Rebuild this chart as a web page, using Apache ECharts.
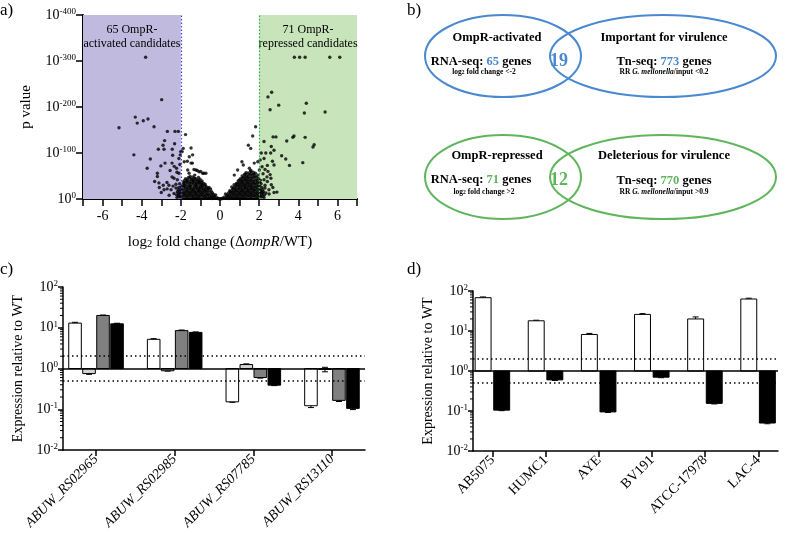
<!DOCTYPE html>
<html><head><meta charset="utf-8">
<script src="https://cdn.jsdelivr.net/npm/echarts@6/dist/echarts.min.js"></script>
<style>html,body{margin:0;padding:0;background:#fff}#c{width:800px;height:537px}</style>
</head><body><div id="c"></div>
<script>
// ---------- Panel a: volcano plot (x = log2 fold change, y = -log10 p) ----------
const volcanoActivated = [[-3.80,308],[-2.98,216],[-4.33,178],[-4.23,165],[-3.92,170],[-3.68,174],[-5.16,155],[-3.37,157],[-2.69,147],[-2.30,147],[-2.13,147],[-4.40,96],[-3.56,87],[-3.72,67],[-2.83,127],[-2.91,117],[-3.15,108],[-2.44,108],[-2.32,120],[-2.86,108],[-2.42,95],[-3.02,72],[-2.81,78],[-2.45,78],[-2.34,71],[-2.22,67],[-3.20,56],[-3.20,49],[-3.34,38],[-3.12,35],[-2.71,36],[-2.61,30],[-3.00,14],[-2.86,20],[-2.35,45],[-2.18,42],[-2.10,56],[-2.01,103],[-2.03,96],[-2.4,28],[-2.5,20],[-2.2,58],[-2.35,12],[-2.6,8],[-2.45,48],[-2.7,22],[-2.9,30],[-3.1,25],[-2.55,62],[-2.25,32],[-2.05,75],[-2.1,88]];
const volcanoRepressed = [[3.80,308],[4.07,308],[4.35,308],[5.61,308],[6.12,308],[2.64,232],[2.45,222],[2.56,194],[3.00,204],[4.41,208],[4.31,187],[5.37,189],[2.25,125],[2.71,135],[2.86,135],[3.72,134],[3.78,137],[4.35,134],[3.41,126],[4.81,118],[4.75,113],[2.62,114],[2.76,106],[2.11,100],[2.34,100],[2.59,100],[3.15,94],[3.36,87],[3.55,73],[4.23,79],[2.68,82],[2.76,74],[2.42,73],[2.30,64],[2.56,53],[2.25,42],[2.42,38],[2.62,31],[2.76,14],[2.91,15],[2.35,13],[2.51,11],[2.15,70],[2.2,55],[2.4,48],[2.3,30],[2.5,20],[2.15,15],[2.45,60],[2.6,45],[2.7,25],[2.05,85],[2.25,88]];
const volcanoNearLeft = [[-1.76,140],[-1.48,111],[-1.57,92],[-1.40,96],[-1.83,81],[-1.48,78],[-1.23,63],[-1.07,59],[-0.89,56],[-0.72,56],[-1.65,63],[-1.88,110],[-1.93,103],[-1.67,82],[-1.41,78],[-1.16,62],[-0.99,60],[-0.82,56],[-1.33,64],
[-0.05,0.5],[0,0],[-0.1,1],[-0.15,3],[-0.25,2],[-0.28,6],[-0.22,9],[-0.4,1],[-0.42,7],[-0.38,13],[-0.45,17],[-0.55,3],[-0.58,9],[-0.52,15],[-0.6,21],[-0.56,25],[-0.7,2],[-0.72,8],[-0.68,14],[-0.74,20],[-0.7,27],[-0.76,32],[-0.85,4],[-0.88,10],[-0.83,16],[-0.87,22],[-0.9,28],[-0.84,34],[-0.92,39],[-1.0,2],[-1.02,8],[-0.98,14],[-1.04,20],[-1.0,26],[-0.97,32],[-1.05,37],[-1.02,43],[-1.15,5],[-1.18,11],[-1.12,17],[-1.16,23],[-1.2,29],[-1.13,35],[-1.17,41],[-1.1,47],[-1.3,2],[-1.32,8],[-1.28,14],[-1.34,20],[-1.3,26],[-1.27,33],[-1.35,39],[-1.31,45],[-1.29,52],[-1.45,4],[-1.48,10],[-1.43,16],[-1.47,22],[-1.5,28],[-1.44,35],[-1.46,42],[-1.52,49],[-1.6,2],[-1.62,8],[-1.58,14],[-1.64,21],[-1.6,27],[-1.57,34],[-1.65,40],[-1.61,47],[-1.58,56],[-1.75,5],[-1.78,11],[-1.73,17],[-1.77,24],[-1.8,30],[-1.74,37],[-1.76,44],[-1.9,3],[-1.92,9],[-1.88,15],[-1.94,22],[-1.9,29],[-1.87,36],[-2.05,4],[-2.08,10],[-2.03,17],[-2.1,25],[-2.06,33],[-2.2,3],[-2.22,9],[-2.18,16],[-2.25,24],
[-0.33,4],[-0.33,10],[-0.48,4],[-0.48,10],[-0.48,22],[-0.63,5],[-0.63,11],[-0.63,18],[-0.63,24],[-0.78,5],[-0.78,11],[-0.78,17],[-0.78,23],[-0.78,29],[-0.93,7],[-0.93,13],[-0.93,19],[-0.93,25],[-0.93,31],[-0.93,36],[-1.08,5],[-1.08,11],[-1.08,17],[-1.08,23],[-1.08,29],[-1.08,35],[-1.08,40],[-1.23,2],[-1.23,8],[-1.23,14],[-1.23,20],[-1.23,26],[-1.23,32],[-1.23,38],[-1.23,44],[-1.38,5],[-1.38,11],[-1.38,17],[-1.38,23],[-1.38,30],[-1.38,36],[-1.38,42],[-1.38,48],[-1.53,7],[-1.53,13],[-1.53,19],[-1.53,25],[-1.53,31],[-1.53,38],[-1.53,45],[-1.68,5],[-1.68,11],[-1.68,17],[-1.68,24],[-1.68,30],[-1.68,36],[-1.68,42],[-1.83,7],[-1.83,13],[-1.83,20],[-1.83,27],[-1.83,33],[-1.83,40],[-1.98,6],[-1.98,13],[-1.98,20],[-1.98,27],[-2.13,6],[-2.13,13],[-2.13,20]];
const volcanoNearRight = [[1.82,157],[1.67,137],[1.45,117],[1.57,110],[1.12,81],[1.19,74],[1.5,67],[1.75,78],[1.93,81],[2.01,63],[0.9,63],[0.73,52],
[0.05,0.5],[0.1,1],[0.15,1],[0.2,4],[0.3,2],[0.33,7],[0.28,11],[0.45,1],[0.47,7],[0.43,13],[0.5,18],[0.6,3],[0.62,9],[0.58,15],[0.64,21],[0.6,26],[0.75,2],[0.77,8],[0.73,14],[0.79,20],[0.75,26],[0.72,31],[0.9,4],[0.92,10],[0.88,16],[0.94,22],[0.9,28],[0.87,34],[0.93,39],[1.05,2],[1.07,8],[1.03,14],[1.09,20],[1.05,26],[1.02,32],[1.08,38],[1.04,44],[1.2,5],[1.22,11],[1.18,17],[1.24,23],[1.2,29],[1.17,35],[1.23,41],[1.19,47],[1.25,53],[1.35,2],[1.37,8],[1.33,14],[1.39,20],[1.35,26],[1.32,32],[1.38,38],[1.34,44],[1.36,50],[1.33,57],[1.5,4],[1.52,10],[1.48,16],[1.54,22],[1.5,28],[1.47,34],[1.53,40],[1.49,46],[1.51,53],[1.55,60],[1.65,2],[1.67,8],[1.63,14],[1.69,20],[1.65,26],[1.62,32],[1.68,38],[1.64,45],[1.66,52],[1.7,58],[1.8,5],[1.82,11],[1.78,17],[1.84,23],[1.8,29],[1.77,35],[1.83,42],[1.79,49],[1.81,56],[1.95,3],[1.97,9],[1.93,15],[1.99,22],[1.95,29],[1.92,36],[1.96,44],[1.94,52],[2.1,4],[2.12,10],[2.08,17],[2.14,25],[2.1,33],[2.06,41],[2.25,3],[2.28,9],[2.22,16],[2.3,24],
[0.38,4],[0.38,9],[0.53,5],[0.53,11],[0.53,16],[0.68,5],[0.68,11],[0.68,17],[0.68,23],[0.83,5],[0.83,11],[0.83,17],[0.83,23],[0.83,29],[0.83,33],[0.98,5],[0.98,11],[0.98,17],[0.98,23],[0.98,29],[0.98,35],[0.98,41],[1.13,2],[1.13,8],[1.13,14],[1.13,20],[1.13,26],[1.13,32],[1.13,38],[1.13,44],[1.13,50],[1.28,5],[1.28,11],[1.28,17],[1.28,23],[1.28,29],[1.28,35],[1.28,41],[1.28,47],[1.28,54],[1.43,7],[1.43,13],[1.43,19],[1.43,25],[1.43,31],[1.43,37],[1.43,43],[1.43,49],[1.43,56],[1.58,5],[1.58,11],[1.58,17],[1.58,23],[1.58,29],[1.58,35],[1.58,41],[1.58,48],[1.58,55],[1.58,62],[1.73,7],[1.73,13],[1.73,20],[1.73,26],[1.73,33],[1.73,40],[1.73,47],[1.73,54],[1.88,6],[1.88,12],[1.88,19],[1.88,26],[1.88,33],[1.88,40],[1.88,48],[2.03,7],[2.03,13],[2.03,20],[2.03,28],[2.03,36],[2.18,6],[2.18,12],[2.18,20]];
const foldCutoffs = [-2, 2];
const countActivated = 65, countRepressed = 71;

// ---------- Panel b: Venn numbers ----------
const tnImportant = 773, tnDeleterious = 770;
const overlapActivated = 19, overlapRepressed = 12;

// ---------- Panel c ----------
const cGenes = ['ABUW_RS02965','ABUW_RS02985','ABUW_RS07785','ABUW_RS13110'];
const cWhite = [13.0, 5.2, 0.152, 0.122];
const cWhiteErr = [0.6, 0.2, 0.004, 0.012];
const cLight = [0.75, 0.88, 1.25, 0.95];
const cLightErr = [0.03, 0.02, 0.05, 0.12];
const cGrey = [20.0, 8.5, 0.6, 0.165];
const cGreyErr = [0.5, 0.3, 0.02, 0.01];
const cBlack = [12.5, 7.7, 0.39, 0.105];
const cBlackErr = [0.4, 0.2, 0.01, 0.007];

// ---------- Panel d ----------
const dStrains = ['AB5075','HUMC1','AYE','BV191','ATCC-17978','LAC-4'];
const dWhite = [68, 18, 8.2, 26, 20, 63];
const dWhiteErr = [3, 0.6, 0.5, 1.2, 2.5, 3];
const dBlack = [0.105, 0.6, 0.095, 0.7, 0.155, 0.05];
const dBlackErr = [0.003, 0.02, 0.003, 0.02, 0.005, 0.002];
const expressionThresholds = [2, 0.5];
const minorLogTicks = [0.02,0.03,0.04,0.05,0.06,0.07,0.08,0.09,0.2,0.3,0.4,0.5,0.6,0.7,0.8,0.9,2,3,4,5,6,7,8,9,20,30,40,50,60,70,80,90];

const SERIF = '"Liberation Serif","DejaVu Serif",serif';
const BLUE = '#4a88cf', GREEN = '#5fb55c';
const C_MIN = -0.42, C_MAX = 3.42, D_MIN = -0.37, D_MAX = 5.37;
const chart = echarts.init(document.getElementById('c'), null, {renderer: 'canvas'});

const supRich = {
  b: {fontFamily: SERIF, fontSize: 14, color: '#000', lineHeight: 16},
  s: {fontFamily: SERIF, fontSize: 9, color: '#000', verticalAlign: 'top', lineHeight: 9}
};
function logLabel(v) {
  const e = Math.round(Math.log10(v));
  return '{b|10}{s|' + e + '}';
}

function makeBars(vals, errs, off, wid, fill, xi, yi) {
  return {
    type: 'custom', xAxisIndex: xi, yAxisIndex: yi, clip: false,
    data: vals.map((v, i) => [i, v, errs[i]]),
    renderItem(params, api) {
      const i = api.value(0), v = api.value(1), e = api.value(2);
      const xc = i + off;
      const base = api.coord([xc, 1]);
      const top = api.coord([xc, v]);
      const left = api.coord([xc - wid / 2, v])[0];
      const right = api.coord([xc + wid / 2, v])[0];
      const hi = api.coord([xc, v + e])[1];
      const lo = api.coord([xc, Math.max(v - e, 1e-4)])[1];
      const cap = 3;
      const st = {stroke: '#000', lineWidth: 1};
      return {type: 'group', children: [
        {type: 'line', shape: {x1: top[0], y1: hi, x2: top[0], y2: lo}, style: st},
        {type: 'line', shape: {x1: top[0] - cap, y1: hi, x2: top[0] + cap, y2: hi}, style: st},
        {type: 'line', shape: {x1: top[0] - cap, y1: lo, x2: top[0] + cap, y2: lo}, style: st},
        {type: 'rect', shape: {x: left, y: Math.min(base[1], top[1]), width: right - left, height: Math.max(1, Math.abs(base[1] - top[1]))},
         style: {fill: fill, stroke: '#000', lineWidth: 1}}
      ]};
    }
  };
}

// log-spaced minor ticks on the left axis, placed through the axis scale
function minorTicks(xi, yi, xmin) {
  return {
    type: 'custom', xAxisIndex: xi, yAxisIndex: yi, clip: false, silent: true,
    data: minorLogTicks.map(v => [xmin, v]),
    renderItem(params, api) {
      const p = api.coord([api.value(0), api.value(1)]);
      return {type: 'line', shape: {x1: p[0] - 3, y1: p[1], x2: p[0], y2: p[1]}, style: {stroke: '#000', lineWidth: 1}};
    }
  };
}

function refLines() {
  return {
    silent: true, symbol: 'none', label: {show: false},
    data: [
      {yAxis: 1, lineStyle: {type: 'solid', color: '#000', width: 1.5}},
      ...expressionThresholds.map(t => ({yAxis: t, lineStyle: {type: [1.5, 3], color: '#000', width: 1.5}}))
    ]
  };
}

const catAxisBase = (names, min, max, italic) => ({
  type: 'value', min: min, max: max,
  axisLine: {show: true, onZero: false, lineStyle: {color: '#000', width: 1.5}},
  axisTick: {show: true, customValues: names.map((_, i) => i), length: 6, lineStyle: {color: '#000', width: 1.5}},
  axisLabel: {customValues: names.map((_, i) => i), formatter: v => names[Math.round(v)] || '', rotate: 45, margin: 7,
    fontFamily: SERIF, fontSize: 14, color: '#000', fontStyle: italic ? 'italic' : 'normal'},
  splitLine: {show: false}
});
const logAxisBase = () => ({
  type: 'log', logBase: 10, min: 0.01, max: 100,
  name: 'Expression relative to WT', nameLocation: 'middle', nameGap: 38,
  nameTextStyle: {fontFamily: SERIF, fontSize: 14, color: '#000'},
  axisLine: {show: true, onZero: false, lineStyle: {color: '#000', width: 1.5}},
  axisTick: {show: true, length: 5, lineStyle: {color: '#000', width: 1.5}},
  axisLabel: {formatter: logLabel, rich: supRich, margin: 5},
  splitLine: {show: false}, minorTick: {show: false}
});

const vennText = (x, y, text, rich, extra) => Object.assign({
  type: 'text', x: x, y: y,
  style: Object.assign({text: text, rich: rich || undefined, align: 'center', verticalAlign: 'middle', fill: '#000',
    fontFamily: SERIF, fontWeight: 'bold', fontSize: 12.5}, extra || {})
});
const vennRich = (col) => ({
  k: {fontFamily: SERIF, fontWeight: 'bold', fontSize: 12.5, fill: '#000'},
  n: {fontFamily: SERIF, fontWeight: 'bold', fontSize: 12.5, fill: col},
  t: {fontFamily: SERIF, fontWeight: 'bold', fontSize: 7.5, fill: '#000'},
  ti: {fontFamily: SERIF, fontWeight: 'bold', fontStyle: 'italic', fontSize: 7.5, fill: '#000'},
  tsub: {fontFamily: SERIF, fontWeight: 'bold', fontSize: 5.5, fill: '#000', verticalAlign: 'bottom', lineHeight: 7}
});

const option = {
  animation: false,
  backgroundColor: '#fff',
  grid: [
    {left: 83, top: 15, width: 274, height: 184},
    {left: 63, top: 287, width: 302, height: 163},
    {left: 473, top: 291, width: 305, height: 160}
  ],
  xAxis: [
    {gridIndex: 0, type: 'value', min: -7, max: 7, interval: 1,
     name: '{r|log}{sub|2}{r| fold change (Δ}{i|ompR}{r|/WT)}', nameLocation: 'middle', nameGap: 36,
     nameTextStyle: {rich: {
       r: {fontFamily: SERIF, fontSize: 15, color: '#000'},
       i: {fontFamily: SERIF, fontSize: 15, color: '#000', fontStyle: 'italic'},
       sub: {fontFamily: SERIF, fontSize: 10.5, color: '#000', verticalAlign: 'bottom', lineHeight: 12}}},
     axisLine: {show: true, onZero: false, lineStyle: {color: '#000', width: 2}},
     axisTick: {show: true, length: 7, lineStyle: {color: '#000', width: 1.5}},
     axisLabel: {formatter: v => (v % 2 === 0 ? String(v) : ''), fontFamily: SERIF, fontSize: 14, color: '#000', margin: 10},
     splitLine: {show: false}},
    Object.assign({gridIndex: 1}, catAxisBase(cGenes, C_MIN, C_MAX, true)),
    Object.assign({gridIndex: 2}, catAxisBase(dStrains, D_MIN, D_MAX, false))
  ],
  yAxis: [
    {gridIndex: 0, type: 'value', min: 0, max: 400, interval: 100,
     name: 'p value', nameLocation: 'middle', nameGap: 49,
     nameTextStyle: {fontFamily: SERIF, fontSize: 15, color: '#000'},
     axisLine: {show: true, onZero: false, lineStyle: {color: '#000', width: 2}},
     axisTick: {show: true, length: 7, lineStyle: {color: '#000', width: 1.5}},
     axisLabel: {formatter: v => '{b|10}{s|' + (v === 0 ? '0' : '-' + v) + '}', rich: supRich, margin: 7},
     splitLine: {show: false}},
    Object.assign({gridIndex: 1}, logAxisBase()),
    Object.assign({gridIndex: 2}, logAxisBase())
  ],
  series: [
    {type: 'scatter', xAxisIndex: 0, yAxisIndex: 0, symbolSize: 3.4, itemStyle: {color: '#000'},
     data: [...volcanoActivated, ...volcanoRepressed, ...volcanoNearLeft, ...volcanoNearRight],
     markArea: {silent: true, data: [
       [{xAxis: -7, yAxis: 0, itemStyle: {color: '#c0badf'},
         label: {show: true, position: 'insideTop', distance: 8, formatter: countActivated + ' OmpR-\nactivated candidates',
           fontFamily: SERIF, fontSize: 12, color: '#000', lineHeight: 14}},
        {xAxis: foldCutoffs[0], yAxis: 400}],
       [{xAxis: foldCutoffs[1], yAxis: 0, itemStyle: {color: '#c7e4ba'},
         label: {show: true, position: 'insideTop', distance: 8, formatter: countRepressed + ' OmpR-\nrepressed candidates',
           fontFamily: SERIF, fontSize: 12, color: '#000', lineHeight: 14}},
        {xAxis: 7, yAxis: 400}]
     ]},
     markLine: {silent: true, symbol: 'none', label: {show: false}, data: [
       {xAxis: foldCutoffs[0], lineStyle: {type: [1.5, 2], color: '#3a45d8', width: 1.2}},
       {xAxis: foldCutoffs[1], lineStyle: {type: [1.5, 2], color: '#2fae4a', width: 1.2}}
     ]}},
    Object.assign(makeBars(cWhite, cWhiteErr, -0.267, 0.16, '#ffffff', 1, 1), {markLine: refLines()}),
    makeBars(cLight, cLightErr, -0.089, 0.16, '#d4d4d4', 1, 1),
    makeBars(cGrey, cGreyErr, 0.089, 0.16, '#808080', 1, 1),
    makeBars(cBlack, cBlackErr, 0.267, 0.16, '#000000', 1, 1),
    Object.assign(makeBars(dWhite, dWhiteErr, -0.18, 0.30, '#ffffff', 2, 2), {markLine: refLines()}),
    makeBars(dBlack, dBlackErr, 0.17, 0.30, '#000000', 2, 2),
    minorTicks(1, 1, C_MIN),
    minorTicks(2, 2, D_MIN)
  ],
  graphic: [
    {type: 'text', x: 0, y: 2, style: {text: 'a)', fontFamily: SERIF, fontSize: 17, fill: '#000'}},
    {type: 'text', x: 407, y: 2, style: {text: 'b)', fontFamily: SERIF, fontSize: 17, fill: '#000'}},
    {type: 'text', x: 0, y: 261, style: {text: 'c)', fontFamily: SERIF, fontSize: 17, fill: '#000'}},
    {type: 'text', x: 407, y: 261, style: {text: 'd)', fontFamily: SERIF, fontSize: 17, fill: '#000'}},
    // Venn top (blue)
    {type: 'ellipse', shape: {cx: 503, cy: 56, rx: 78, ry: 41}, style: {fill: 'none', stroke: BLUE, lineWidth: 2}},
    {type: 'ellipse', shape: {cx: 663, cy: 56, rx: 113, ry: 41}, style: {fill: 'none', stroke: BLUE, lineWidth: 2}},
    vennText(497, 38, 'OmpR-activated'),
    vennText(481, 62, '{k|RNA-seq: }{n|' + countActivated + '}{k| genes}', vennRich(BLUE)),
    vennText(484, 72, '{t|log}{tsub|2}{t| fold change <-2}', vennRich(BLUE)),
    vennText(559, 61, String(overlapActivated), null, {fill: BLUE, fontSize: 18}),
    vennText(664, 38, 'Important for virulence'),
    vennText(664, 62, '{k|Tn-seq: }{n|' + tnImportant + '}{k| genes}', vennRich(BLUE)),
    vennText(664, 72, '{t|RR }{ti|G. mellonella}{t|/input <0.2}', vennRich(BLUE)),
    // Venn bottom (green)
    {type: 'ellipse', shape: {cx: 503, cy: 177, rx: 78, ry: 42}, style: {fill: 'none', stroke: GREEN, lineWidth: 2}},
    {type: 'ellipse', shape: {cx: 663, cy: 177, rx: 113, ry: 42}, style: {fill: 'none', stroke: GREEN, lineWidth: 2}},
    vennText(497, 156, 'OmpR-repressed'),
    vennText(481, 180, '{k|RNA-seq: }{n|' + countRepressed + '}{k| genes}', vennRich(GREEN)),
    vennText(484, 192, '{t|log}{tsub|2}{t| fold change >2}', vennRich(GREEN)),
    vennText(559, 180, String(overlapRepressed), null, {fill: GREEN, fontSize: 18}),
    vennText(664, 156, 'Deleterious for virulence'),
    vennText(664, 181, '{k|Tn-seq: }{n|' + tnDeleterious + '}{k| genes}', vennRich(GREEN)),
    vennText(664, 192, '{t|RR }{ti|G. mellonella}{t|/input >0.9}', vennRich(GREEN))
  ]
};
chart.setOption(option);
</script>
</body></html>
